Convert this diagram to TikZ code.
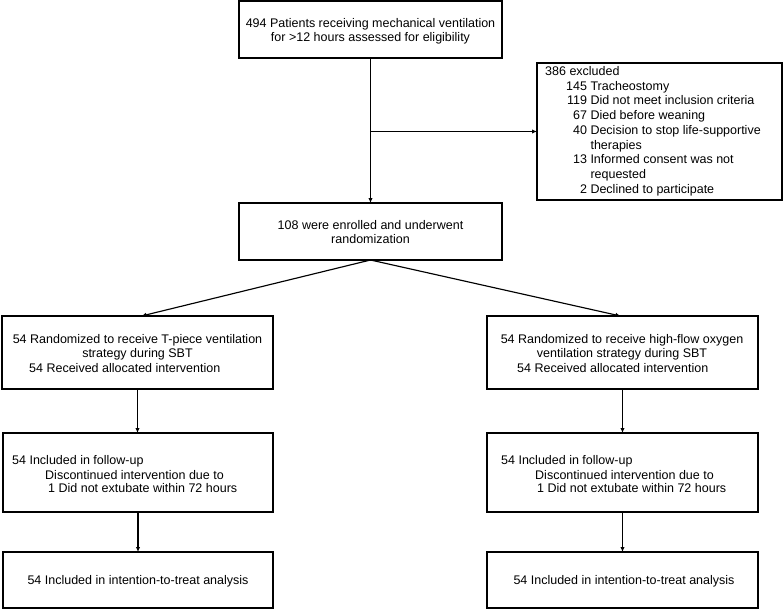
\documentclass[tikz,border=0pt]{standalone}
\usepackage{fontspec}
\setmainfont{Liberation Sans}
\usetikzlibrary{arrows.meta}
\begin{document}
\begin{tikzpicture}[x=1pt,y=-1pt,
  box/.style={draw, line width=1.4pt, inner sep=0pt, outer sep=0pt},
  txt/.style={inner sep=0pt, font=\fontsize{12.5}{14.5}\selectfont},
  arr/.style={line width=1.15pt, -{Latex[length=5pt,width=4.5pt]}}]
\useasboundingbox[fill=white] (0,0) rectangle (784,610);
% boxes
\node[box, minimum width=263pt, minimum height=57pt] (top) at (370.5,29.5) {};
\node[box, minimum width=245pt, minimum height=137pt] (excl) at (659.5,131.5) {};
\node[box, minimum width=263pt, minimum height=57pt] (enroll) at (370.5,231.5) {};
\node[box, minimum width=271pt, minimum height=73pt] (L1) at (137.5,352.5) {};
\node[box, minimum width=271pt, minimum height=73pt] (R1) at (622.5,352.5) {};
\node[box, minimum width=270pt, minimum height=79pt] (L2) at (138,472.5) {};
\node[box, minimum width=271pt, minimum height=79pt] (R2) at (622.5,472.5) {};
\node[box, minimum width=270pt, minimum height=56pt] (L3) at (138,580) {};
\node[box, minimum width=271pt, minimum height=56pt] (R3) at (622.5,580) {};
% texts
\node[txt, anchor=base] (ttop) at (370.5,27.4) {\begin{tabular}[t]{@{}c@{}}494 Patients receiving mechanical ventilation\\ for >12 hours assessed for eligibility\end{tabular}};
\node[txt, anchor=base west] (texcl) at (545,75.4) {\fontsize{12.5}{14.75}\selectfont\begin{tabular}[t]{@{\hspace{21pt}}r@{\ }l@{}}\multicolumn{2}{@{}l}{386 excluded}\\
145 & Tracheostomy\\
119 & Did not meet inclusion criteria\\
67 & Died before weaning\\
40 & Decision to stop life-supportive\\
 & therapies\\
13 & Informed consent was not\\
 & requested\\
2 & Declined to participate\end{tabular}};
\node[txt, anchor=base] (tenroll) at (370.5,229.4) {\begin{tabular}[t]{@{}c@{}}108 were enrolled and underwent\\ randomization\end{tabular}};
\node[txt, anchor=base] (tL1a) at (137.5,343.4) {\begin{tabular}[t]{@{}c@{}}54 Randomized to receive T-piece ventilation\\ strategy during SBT\end{tabular}};
\node[txt, anchor=base west] (tL1b) at (29,372.4) {54 Received allocated intervention};
\node[txt, anchor=base] (tR1a) at (622,343.4) {\begin{tabular}[t]{@{}c@{}}54 Randomized to receive high-flow oxygen\\ ventilation strategy during SBT\end{tabular}};
\node[txt, anchor=base west] (tR1b) at (517,372.4) {54 Received allocated intervention};
\node[txt, anchor=base west] (tL2a) at (12,464.4) {54 Included in follow-up};
\node[txt, anchor=base west] (tL2b) at (45,479.2) {Discontinued intervention due to};
\node[txt, anchor=base west] (tL2c) at (48,492.8) {1 Did not extubate within 72 hours};
\node[txt, anchor=base west] (tR2a) at (501,464.4) {54 Included in follow-up};
\node[txt, anchor=base west] (tR2b) at (535,479.2) {Discontinued intervention due to};
\node[txt, anchor=base west] (tR2c) at (537,492.8) {1 Did not extubate within 72 hours};
\node[txt, anchor=base] (tL3) at (138,584.4) {54 Included in intention-to-treat analysis};
\node[txt, anchor=base] (tR3) at (624,584.4) {54 Included in intention-to-treat analysis};
% connectors
\draw[arr] (top.south) -- (enroll.north);
\coordinate (br) at (top.south |- excl.west);
\draw[arr] (br) -- (excl.west);
\draw[arr] (enroll.south) -- ([xshift=4pt]L1.north);
\draw[arr] (enroll.south) -- ([xshift=-2pt]R1.north);
\draw[arr] (L1.south) -- (L1.south |- L2.north);
\draw[arr] (R1.south) -- (R2.north);
\draw[arr] (L2.south) -- (L3.north);
\draw[arr] (R2.south) -- (R3.north);
\end{tikzpicture}
\end{document}
